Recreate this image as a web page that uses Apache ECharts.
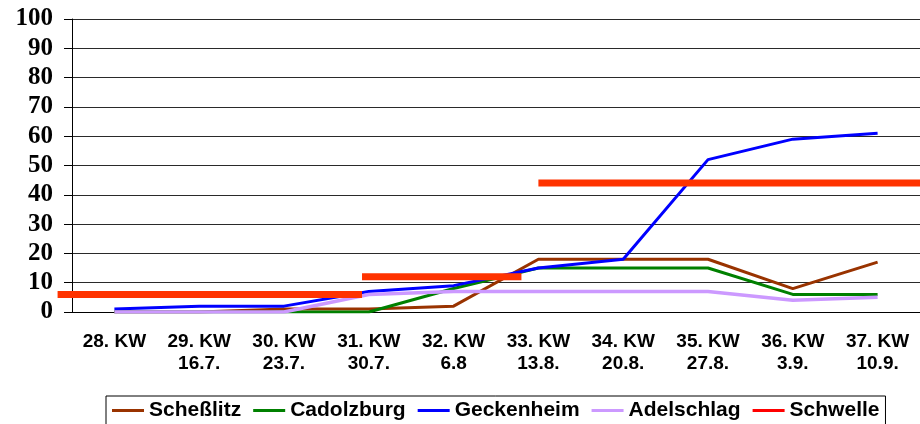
<!DOCTYPE html>
<html>
<head>
<meta charset="utf-8">
<script src="https://cdn.jsdelivr.net/npm/echarts@6/dist/echarts.min.js"></script>
<style>
  html, body { margin: 0; padding: 0; background: #fff; }
  #chart { width: 920px; height: 424px; }
</style>
</head>
<body>
<div id="chart"></div>
<script>
// Kalenderwochen + Datum
const weeks = ['28. KW', '29. KW', '30. KW', '31. KW', '32. KW', '33. KW', '34. KW', '35. KW', '36. KW', '37. KW'];
const dates = ['', '16.7.', '23.7.', '30.7.', '6.8', '13.8.', '20.8.', '27.8.', '3.9.', '10.9.'];

const schesslitz = [0, 0, 1, 1, 2, 18, 18, 18, 8, 17];
const cadolzburg = [0, 0, 0, 0, 8, 15, 15, 15, 6, 6];
const geckenheim = [1, 2, 2, 7, 9, 15, 18, 52, 59, 61];
const adelschlag = [0, 0, 0, 6, 7, 7, 7, 7, 4, 5];

// Schwelle: Abschnitte (von/bis in Kategorie-Einheiten) und Wert
const schwelleFrom = [-0.17, 3.42, 5.5];
const schwelleTo = [3.42, 5.3, 10.3];
const schwelleValue = [6, 12, 44];

const yTicks = { min: 0, max: 100, interval: 10 };

// Plotbereich
const gridLeft = 72;
const gridTop = 19;
const gridBottom = 112;
const chartWidth = 920;
const catWidth = (chartWidth - gridLeft) / weeks.length;

const chart = echarts.init(document.getElementById('chart'));

const lineSeries = (name, data, color, width) => ({
  name,
  type: 'line',
  data,
  symbol: 'none',
  lineStyle: { color, width },
  itemStyle: { color },
});

// Schwelle in einem zweiten, unsichtbaren Grid über die volle Breite,
// damit der erste Abschnitt links über die Achse hinausragen darf
const schwelleSeries = schwelleValue.map((v, i) => ({
  name: 'Schwelle',
  type: 'line',
  xAxisIndex: 2,
  yAxisIndex: 1,
  symbol: 'none',
  data: [[schwelleFrom[i], v], [schwelleTo[i], v]],
  lineStyle: { color: '#FF3300', width: 7, cap: 'butt' },
  itemStyle: { color: '#FF3300' },
}));

const option = {
  backgroundColor: '#fff',
  animation: false,
  grid: [
    { left: gridLeft, right: 0, top: gridTop, bottom: gridBottom },
    { left: 0, right: 0, top: gridTop, bottom: gridBottom },
  ],
  legend: {
    left: 106,
    top: 396,
    padding: [4, 6, 6, 6],
    itemGap: 12,
    itemWidth: 32,
    itemHeight: 3,
    icon: 'rect',
    borderColor: '#000',
    borderWidth: 1,
    textStyle: { fontFamily: 'Liberation Sans', fontWeight: 'bold', fontSize: 21, color: '#000' },
    data: [
      'Scheßlitz', 'Cadolzburg', 'Geckenheim', 'Adelschlag',
      { name: 'Schwelle', itemStyle: { color: '#FF0000' } },
    ],
  },
  xAxis: [
    {
      type: 'category',
      data: weeks,
      gridIndex: 0,
      boundaryGap: true,
      axisLine: { lineStyle: { color: '#000', width: 1 } },
      axisTick: { length: 6, lineStyle: { color: '#000' } },
      axisLabel: {
        interval: 0,
        margin: 19,
        fontFamily: 'Liberation Sans',
        fontWeight: 'bold',
        fontSize: 19,
        lineHeight: 22,
        color: '#000',
        formatter: (val, idx) => (dates[idx] ? val + '\n' + dates[idx] : val),
      },
      splitLine: { show: false },
    },
    { type: 'value', gridIndex: 0, min: 0, max: weeks.length, show: false, splitLine: { show: false } },
    {
      type: 'value',
      gridIndex: 1,
      min: -gridLeft / catWidth,
      max: weeks.length,
      show: false,
      splitLine: { show: false },
    },
  ],
  yAxis: [
    {
      type: 'value',
      gridIndex: 0,
      min: yTicks.min,
      max: yTicks.max,
      interval: yTicks.interval,
      axisLine: { show: true, lineStyle: { color: '#000', width: 1 } },
      axisTick: { show: true, length: 8, lineStyle: { color: '#000' } },
      axisLabel: {
        margin: 19,
        fontFamily: 'Liberation Serif',
        fontWeight: 'bold',
        fontSize: 25,
        color: '#000',
      },
      splitLine: { lineStyle: { color: '#2a2a2a', width: 1 } },
    },
    {
      type: 'value',
      gridIndex: 1,
      min: yTicks.min,
      max: yTicks.max,
      show: false,
      splitLine: { show: false },
    },
  ],
  series: [
    lineSeries('Scheßlitz', schesslitz, '#993300', 3),
    lineSeries('Cadolzburg', cadolzburg, '#008000', 3),
    lineSeries('Geckenheim', geckenheim, '#0000FF', 3),
    lineSeries('Adelschlag', adelschlag, '#CC99FF', 3.5),
    ...schwelleSeries,
  ],
};

chart.setOption(option);
</script>
</body>
</html>
